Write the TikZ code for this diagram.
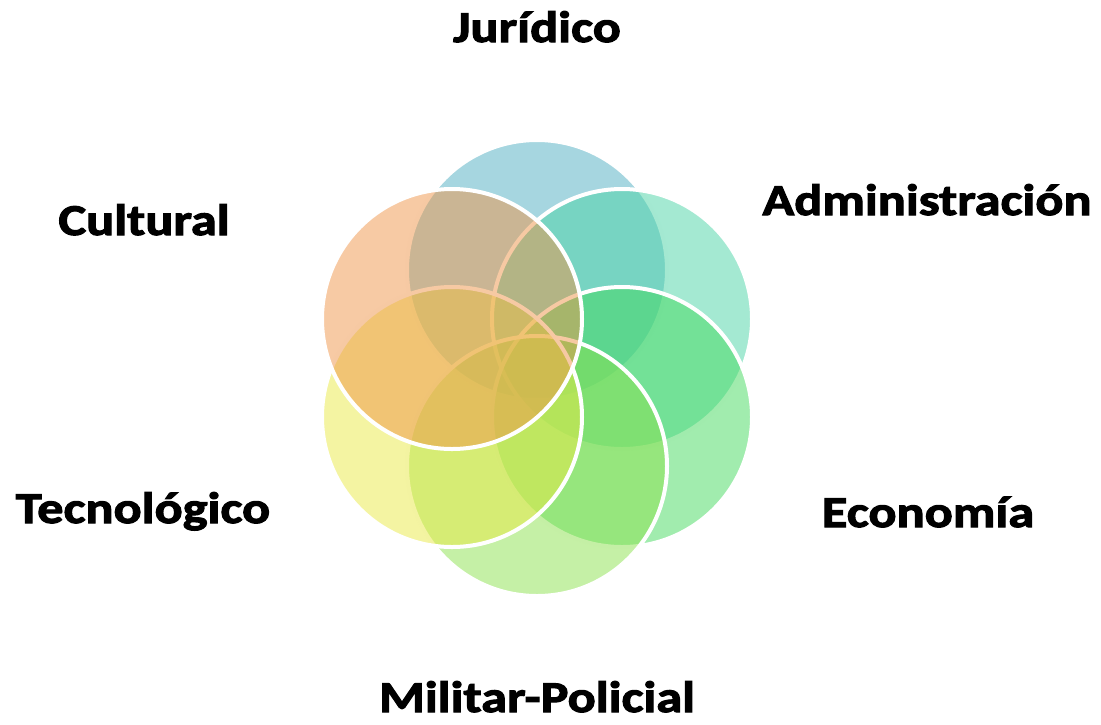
\documentclass[tikz,border=0pt]{standalone}
\usepackage{fontspec}
\setmainfont{Carlito}
\newfontfamily\labfont[FakeStretch=1.19,FakeBold=2.5]{Carlito}
\usetikzlibrary{calc}
\definecolor{cJur}{RGB}{77,173,193}
\definecolor{cAdm}{RGB}{73,211,165}
\definecolor{cEco}{RGB}{67,217,93}
\definecolor{cMil}{RGB}{139,225,77}
\definecolor{cTec}{RGB}{233,233,69}
\definecolor{cCul}{RGB}{239,149,73}
\begin{document}
\begin{tikzpicture}[x=1pt,y=-1pt,
  ring/.style={circle,minimum size=260pt,inner sep=0pt,outer sep=0pt,fill=#1,fill opacity=0.5,draw=white,line width=4pt},
  lab/.style={anchor=base,font=\labfont\bfseries\fontsize{44}{44}\selectfont,inner sep=0pt}]
\useasboundingbox (0,0) rectangle (1101,724);
\coordinate (c) at (537,368);
\node[ring=cJur] (jur) at ($(c)+(0,-98)$) {};
\node[ring=cAdm] (adm) at ($(c)+(85,-49)$) {};
\node[ring=cEco] (eco) at ($(c)+(85,49)$) {};
\node[ring=cMil] (mil) at ($(c)+(0,98)$) {};
\node[ring=cTec] (tec) at ($(c)+(-85,49)$) {};
\node[ring=cCul] (cul) at ($(c)+(-85,-49)$) {};
\node[lab] (tjur) at (537,42) {Jurídico};
\node[lab] (tadm) at (927,215) {Administración};
\node[lab] (teco) at (928,527) {Economía};
\node[lab] (tmil) at (537,712) {Militar-Policial};
\node[lab] (ttec) at (143,523) {Tecnológico};
\node[lab] (tcul) at (144,235) {Cultural};
\end{tikzpicture}
\end{document}
